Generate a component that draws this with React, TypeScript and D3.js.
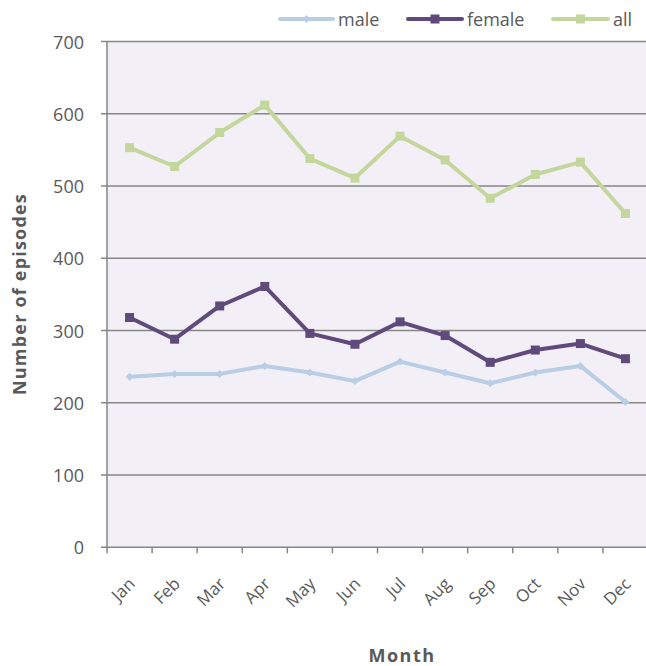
import React from "react";
import * as d3 from "d3";

const months = ["Jan", "Feb", "Mar", "Apr", "May", "Jun", "Jul", "Aug", "Sep", "Oct", "Nov", "Dec"];
const male = [236, 240, 240, 251, 242, 230, 257, 242, 227, 242, 251, 201];
const female = [318, 288, 334, 361, 296, 281, 312, 293, 256, 273, 282, 261];
const all = [553, 527, 574, 612, 538, 511, 569, 536, 483, 516, 533, 462];
const yTicks = [0, 100, 200, 300, 400, 500, 600, 700];

const series = [
  { name: "male", values: male, color: "#B9CDE5", marker: "diamond" },
  { name: "female", values: female, color: "#604A7B", marker: "square" },
  { name: "all", values: all, color: "#C3D69B", marker: "square" },
];

const W = 646;
const H = 666;
const left = 107;
const right = 648;
const top = 41.5;
const bottom = 547.3;
const font = "'Open Sans', 'DejaVu Sans', sans-serif";
const textColor = "#595959";
const gridColor = "#868686";

function Marker({ type, x, y, color }: { type: string; x: number; y: number; color: string }) {
  if (type === "diamond") {
    const s = 4;
    return <path d={`M${x},${y - s}L${x + s},${y}L${x},${y + s}L${x - s},${y}Z`} fill={color} />;
  }
  const s = 9;
  return <rect x={x - s / 2} y={y - s / 2} width={s} height={s} fill={color} />;
}

export default function App() {
  const x = d3.scaleBand<string>().domain(months).range([left, right]);
  const y = d3.scaleLinear().domain([0, 700]).range([bottom, top]);
  const cx = (m: string) => (x(m) ?? 0) + x.bandwidth() / 2;
  const line = d3
    .line<number>()
    .x((_, i) => cx(months[i]))
    .y((d) => y(d));

  const boundaries = months.map((m) => x(m) ?? 0).concat([right]);

  const legend = [
    { s: series[0], x0: 280, x1: 333, tx: 338 },
    { s: series[1], x0: 408, x1: 462, tx: 467 },
    { s: series[2], x0: 553, x1: 608, tx: 613 },
  ];

  return (
    <svg
      width={W}
      height={H}
      style={{ position: "absolute", left: 0, top: 0, background: "#fff" }}
      fontFamily={font}
    >
      <rect x={left} y={top} width={right - left} height={bottom - top} fill="#F2F0F6" />
      {yTicks.map((t) => (
        <g key={t}>
          <line x1={left - 6} x2={right} y1={y(t)} y2={y(t)} stroke={gridColor} strokeWidth={1.5} />
          <text x={84} y={y(t)} textAnchor="end" dominantBaseline="central" fontSize={18} fill={textColor}>
            {t}
          </text>
        </g>
      ))}
      <line x1={left} x2={left} y1={top} y2={bottom} stroke={gridColor} strokeWidth={1.5} />
      {boundaries.map((b, i) => (
        <line key={i} x1={b} x2={b} y1={bottom} y2={bottom + 6} stroke={gridColor} strokeWidth={1.5} />
      ))}
      {months.map((m) => (
        <text
          key={m}
          transform={`translate(${cx(m) + 2},${bottom + 33}) rotate(-45)`}
          textAnchor="end"
          dominantBaseline="central"
          fontSize={17}
          fill={textColor}
        >
          {m}
        </text>
      ))}
      {series.map((s) => (
        <g key={s.name}>
          <path d={line(s.values) ?? ""} fill="none" stroke={s.color} strokeWidth={4} strokeLinejoin="round" />
          {s.values.map((v, i) => (
            <Marker key={i} type={s.marker} x={cx(months[i])} y={y(v)} color={s.color} />
          ))}
        </g>
      ))}
      {legend.map(({ s, x0, x1, tx }) => (
        <g key={s.name}>
          <line x1={x0} x2={x1} y1={19} y2={19} stroke={s.color} strokeWidth={4} strokeLinecap="round" />
          <Marker type={s.marker} x={(x0 + x1) / 2} y={19} color={s.color} />
          <text x={tx} y={19} dominantBaseline="central" fontSize={18} fill={textColor}>
            {s.name}
          </text>
        </g>
      ))}
      <text
        transform={`translate(19,294) rotate(-90)`}
        textAnchor="middle"
        dominantBaseline="central"
        fontSize={18}
        letterSpacing={1.2}
        fontWeight="bold"
        fill={textColor}
      >
        Number of episodes
      </text>
      <text
        x={402}
        y={655}
        textAnchor="middle"
        dominantBaseline="central"
        fontSize={18}
        letterSpacing={1.5}
        fontWeight="bold"
        fill={textColor}
      >
        Month
      </text>
    </svg>
  );
}
